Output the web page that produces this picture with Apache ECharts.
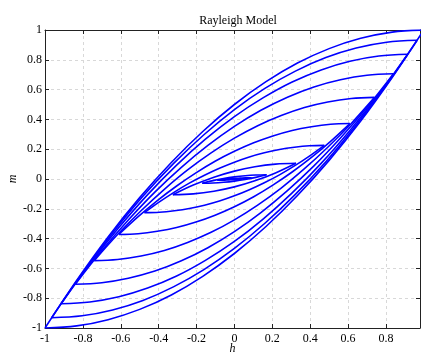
<!DOCTYPE html>
<html>
<head>
<meta charset="utf-8">
<script src="https://cdn.jsdelivr.net/npm/echarts@6/dist/echarts.min.js"></script>
<style>html,body{margin:0;padding:0;background:#fff}#c{width:421px;height:355px}</style>
</head>
<body>
<div id="c"></div>
<script>
// Tick labels
var xTicks = [-1, -0.8, -0.6, -0.4, -0.2, 0, 0.2, 0.4, 0.6, 0.8];
var yTicks = [-1, -0.8, -0.6, -0.4, -0.2, 0, 0.2, 0.4, 0.6, 0.8, 1];

// Descending branches (h, m), one per loop
var downBranches = [
  [[1,1],[0.833,0.986],[0.667,0.944],[0.5,0.875],[0.333,0.778],[0.167,0.653],[0,0.5],[-0.167,0.319],[-0.333,0.111],[-0.5,-0.125],[-0.667,-0.389],[-0.833,-0.681],[-1,-1]],
  [[0.965,0.931],[0.804,0.918],[0.643,0.879],[0.483,0.815],[0.322,0.724],[0.161,0.608],[0,0.466],[-0.161,0.297],[-0.322,0.103],[-0.483,-0.116],[-0.643,-0.362],[-0.804,-0.634],[-0.965,-0.931]],
  [[0.915,0.837],[0.763,0.825],[0.61,0.79],[0.458,0.732],[0.305,0.651],[0.153,0.546],[0,0.419],[-0.153,0.267],[-0.305,0.093],[-0.458,-0.105],[-0.61,-0.326],[-0.763,-0.57],[-0.915,-0.837]],
  [[0.84,0.706],[0.7,0.696],[0.56,0.666],[0.42,0.618],[0.28,0.549],[0.14,0.461],[0,0.353],[-0.14,0.225],[-0.28,0.078],[-0.42,-0.088],[-0.56,-0.275],[-0.7,-0.48],[-0.84,-0.706]],
  [[0.74,0.548],[0.617,0.54],[0.493,0.517],[0.37,0.48],[0.247,0.426],[0.123,0.358],[0,0.274],[-0.123,0.175],[-0.247,0.061],[-0.37,-0.069],[-0.493,-0.213],[-0.617,-0.373],[-0.74,-0.548]],
  [[0.61,0.372],[0.508,0.367],[0.407,0.351],[0.305,0.326],[0.203,0.289],[0.102,0.243],[0,0.186],[-0.102,0.119],[-0.203,0.041],[-0.305,-0.047],[-0.407,-0.145],[-0.508,-0.253],[-0.61,-0.372]],
  [[0.475,0.226],[0.396,0.223],[0.317,0.213],[0.238,0.198],[0.158,0.176],[0.079,0.148],[0,0.113],[-0.079,0.072],[-0.158,0.025],[-0.238,-0.028],[-0.317,-0.088],[-0.396,-0.154],[-0.475,-0.226]],
  [[0.325,0.106],[0.217,0.1],[0.108,0.082],[0,0.053],[-0.108,0.012],[-0.217,-0.041],[-0.325,-0.106]],
  [[0.17,0.029],[0.113,0.027],[0.057,0.022],[0,0.014],[-0.057,0.003],[-0.113,-0.011],[-0.17,-0.029]],
  [[0.09,0.008],[0.06,0.008],[0.03,0.006],[0,0.004],[-0.03,0.001],[-0.06,-0.003],[-0.09,-0.008]],
  [[0.04,0.002],[0.027,0.002],[0.013,0.001],[0,0.001],[-0.013,0],[-0.027,-0.001],[-0.04,-0.002]]
];

// Ascending branches (h, m), one per loop
var upBranches = [
  [[-1,-1],[-0.833,-0.986],[-0.667,-0.944],[-0.5,-0.875],[-0.333,-0.778],[-0.167,-0.653],[0,-0.5],[0.167,-0.319],[0.333,-0.111],[0.5,0.125],[0.667,0.389],[0.833,0.681],[1,1]],
  [[-0.965,-0.931],[-0.804,-0.918],[-0.643,-0.879],[-0.483,-0.815],[-0.322,-0.724],[-0.161,-0.608],[0,-0.466],[0.161,-0.297],[0.322,-0.103],[0.483,0.116],[0.643,0.362],[0.804,0.634],[0.965,0.931]],
  [[-0.915,-0.837],[-0.763,-0.825],[-0.61,-0.79],[-0.458,-0.732],[-0.305,-0.651],[-0.153,-0.546],[0,-0.419],[0.153,-0.267],[0.305,-0.093],[0.458,0.105],[0.61,0.326],[0.763,0.57],[0.915,0.837]],
  [[-0.84,-0.706],[-0.7,-0.696],[-0.56,-0.666],[-0.42,-0.618],[-0.28,-0.549],[-0.14,-0.461],[0,-0.353],[0.14,-0.225],[0.28,-0.078],[0.42,0.088],[0.56,0.275],[0.7,0.48],[0.84,0.706]],
  [[-0.74,-0.548],[-0.617,-0.54],[-0.493,-0.517],[-0.37,-0.48],[-0.247,-0.426],[-0.123,-0.358],[0,-0.274],[0.123,-0.175],[0.247,-0.061],[0.37,0.069],[0.493,0.213],[0.617,0.373],[0.74,0.548]],
  [[-0.61,-0.372],[-0.508,-0.367],[-0.407,-0.351],[-0.305,-0.326],[-0.203,-0.289],[-0.102,-0.243],[0,-0.186],[0.102,-0.119],[0.203,-0.041],[0.305,0.047],[0.407,0.145],[0.508,0.253],[0.61,0.372]],
  [[-0.475,-0.226],[-0.396,-0.223],[-0.317,-0.213],[-0.238,-0.198],[-0.158,-0.176],[-0.079,-0.148],[0,-0.113],[0.079,-0.072],[0.158,-0.025],[0.238,0.028],[0.317,0.088],[0.396,0.154],[0.475,0.226]],
  [[-0.325,-0.106],[-0.217,-0.1],[-0.108,-0.082],[0,-0.053],[0.108,-0.012],[0.217,0.041],[0.325,0.106]],
  [[-0.17,-0.029],[-0.113,-0.027],[-0.057,-0.022],[0,-0.014],[0.057,-0.003],[0.113,0.011],[0.17,0.029]],
  [[-0.09,-0.008],[-0.06,-0.008],[-0.03,-0.006],[0,-0.004],[0.03,-0.001],[0.06,0.003],[0.09,0.008]],
  [[-0.04,-0.002],[-0.027,-0.002],[-0.013,-0.001],[0,-0.001],[0.013,0],[0.027,0.001],[0.04,0.002]]
];

var FONT = 'Liberation Serif';
var chart = echarts.init(document.getElementById('c'), null, {renderer: 'canvas'});

var series = [];
downBranches.concat(upBranches).forEach(function (b) {
  series.push({
    type: 'line', data: b, smooth: 0.35, showSymbol: false, symbol: 'none',
    xAxisIndex: 0, yAxisIndex: 0, animation: false, silent: true,
    lineStyle: {color: '#0000ff', width: 1.6}
  });
});

function fmt(v) { return String(Math.round(v * 10) / 10); }

var axisLine = {show: true, onZero: false, lineStyle: {color: '#222', width: 1}};
var tick = {show: true, inside: true, length: 4, lineStyle: {color: '#222', width: 1}};

chart.setOption({
  backgroundColor: '#fff',
  animation: false,
  title: {
    text: 'Rayleigh Model', left: 233, top: 10, textAlign: 'center',
    textStyle: {fontFamily: FONT, fontSize: 12, fontWeight: 'normal', color: '#000'}
  },
  grid: {left: 45, top: 30, width: 375, height: 298, containLabel: false, outerBoundsMode: 'none'},
  xAxis: [
    {type: 'value', min: -1, max: 0.98, interval: 0.2, position: 'bottom',
     name: 'h', nameLocation: 'middle', nameGap: 15, nameMoveOverlap: false,
     nameTextStyle: {fontFamily: FONT, fontStyle: 'italic', fontSize: 12, color: '#000'},
     axisLine: axisLine, axisTick: tick,
     axisLabel: {fontFamily: FONT, fontSize: 12, color: '#000', margin: 5, formatter: fmt, showMaxLabel: false},
     splitLine: {show: true, lineStyle: {color: '#d8d8d8', type: [3, 3], width: 1}}},
    {type: 'value', min: -1, max: 0.98, interval: 0.2, position: 'top',
     axisLine: axisLine, axisTick: tick, axisLabel: {show: false}, splitLine: {show: false}}
  ],
  yAxis: [
    {type: 'value', min: -1, max: 1, interval: 0.2, position: 'left',
     name: 'm', nameLocation: 'middle', nameGap: 26, nameRotate: 90, nameMoveOverlap: false,
     nameTextStyle: {fontFamily: FONT, fontStyle: 'italic', fontSize: 12, color: '#000'},
     axisLine: axisLine, axisTick: tick,
     axisLabel: {fontFamily: FONT, fontSize: 12, color: '#000', margin: 3, formatter: fmt},
     splitLine: {show: true, lineStyle: {color: '#d8d8d8', type: [3, 3], width: 1}}},
    {type: 'value', min: -1, max: 1, interval: 0.2, position: 'right',
     axisLine: axisLine, axisTick: tick, axisLabel: {show: false}, splitLine: {show: false}}
  ],
  series: series
});
</script>
</body>
</html>
